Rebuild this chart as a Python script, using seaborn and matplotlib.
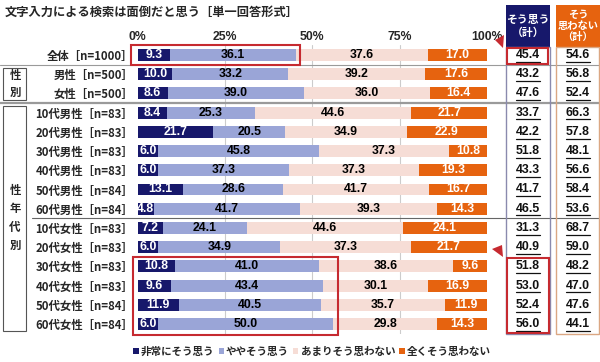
import matplotlib
matplotlib.use("Agg")
import matplotlib.pyplot as plt
import matplotlib.transforms as mtransforms
from matplotlib.patches import Rectangle, Polygon, Patch
import numpy as np
import seaborn as sns

# --- data ---
groups = ["全体", "男性", "女性",
          "10代男性", "20代男性", "30代男性", "40代男性", "50代男性", "60代男性",
          "10代女性", "20代女性", "30代女性", "40代女性", "50代女性", "60代女性"]
sample_n = [1000, 500, 500, 83, 83, 83, 83, 84, 84, 83, 83, 83, 83, 84, 84]
very = [9.3, 10.0, 8.6, 8.4, 21.7, 6.0, 6.0, 13.1, 4.8, 7.2, 6.0, 10.8, 9.6, 11.9, 6.0]
somewhat = [36.1, 33.2, 39.0, 25.3, 20.5, 45.8, 37.3, 28.6, 41.7, 24.1, 34.9, 41.0, 43.4, 40.5, 50.0]
not_much = [37.6, 39.2, 36.0, 44.6, 34.9, 37.3, 37.3, 41.7, 39.3, 44.6, 37.3, 38.6, 30.1, 35.7, 29.8]
not_at_all = [17.0, 17.6, 16.4, 21.7, 22.9, 10.8, 19.3, 16.7, 14.3, 24.1, 21.7, 9.6, 16.9, 11.9, 14.3]
agree_total = [45.4, 43.2, 47.6, 33.7, 42.2, 51.8, 43.3, 41.7, 46.5, 31.3, 40.9, 51.8, 53.0, 52.4, 56.0]
disagree_total = [54.6, 56.8, 52.4, 66.3, 57.8, 48.1, 56.6, 58.4, 53.6, 68.7, 59.0, 48.2, 47.0, 47.6, 44.1]
series_names = ["非常にそう思う", "ややそう思う", "あまりそう思わない", "全くそう思わない"]
x_ticks = [0, 25, 50, 75, 100]

NAVY = "#17186b"
BLUE = "#9aa5d7"
PINK = "#f6ddd6"
ORANGE = "#e6630f"
RED = "#c62a30"
colors = [NAVY, BLUE, PINK, ORANGE]

sns.set_theme(style="white")
plt.rcParams["font.family"] = ["Noto Sans CJK JP", "DejaVu Sans"]
NUM_FONT = ["Liberation Sans", "DejaVu Sans"]

W, H = 600, 362
fig = plt.figure(figsize=(6, 3.62), dpi=100)


def fx(px):
    return px / W


def fy(py):
    return 1 - py / H


ax = fig.add_axes([fx(137.5), fy(333.6), 349.5 / W, (333.6 - 45.4) / H])

labels = [f"{g}［n={n}］" for g, n in zip(groups, sample_n)]
data = np.array([very, somewhat, not_much, not_at_all]).T
cum = data.cumsum(axis=1)

# stacked bars: draw cumulative totals from the outermost layer inward
for k in range(3, -1, -1):
    sns.barplot(x=cum[:, k], y=labels, orient="h", color=colors[k], width=0.62,
                saturation=1, linewidth=0, ax=ax, zorder=2)

for i in range(len(labels)):
    left = 0
    for k in range(4):
        v = data[i, k]
        ax.text(left + v / 2, i, f"{v:.1f}", ha="center", va="center",
                color="white" if k in (0, 3) else "black",
                fontsize=8.8, fontweight="bold", family=NUM_FONT, zorder=3)
        left += v

ax.set_xlim(0, 100)
ax.set_ylim(len(labels) - 0.5, -0.5)
ax.xaxis.tick_top()
ax.set_xticks(x_ticks)
ax.set_xticklabels([f"{t}%" for t in x_ticks], fontsize=8.8, fontweight="bold", family=NUM_FONT)
ax.set_yticks(range(len(labels)))
ax.set_yticklabels(labels, fontsize=8.2, fontweight="bold")
ax.tick_params(axis="both", length=0)
ax.tick_params(axis="x", pad=2)
ax.tick_params(axis="y", pad=3)
ax.set_xlabel("")
ax.set_ylabel("")
for s in ax.spines.values():
    s.set_visible(False)
ax.set_facecolor("none")
for t in (25, 50, 75):
    ax.axvline(t, color="#cccccc", lw=0.8, zorder=0)

# group separators across the whole width
blend = mtransforms.blended_transform_factory(fig.transFigure, ax.transData)
ax.plot([0, 1], [0.5, 0.5], transform=blend, color="#9a9a9a", lw=0.8, clip_on=False, zorder=1)
ax.plot([0, 1], [2.5, 2.5], transform=blend, color="#9a9a9a", lw=1.6, clip_on=False, zorder=1)
ax.plot([fx(32), 1], [8.5, 8.5], transform=blend, color="#666666", lw=0.8, clip_on=False, zorder=1)

# left group boxes
fig.add_artist(Rectangle((fx(3), fy(100)), 23 / W, 32 / H, fill=False, ec="#555555", lw=0.8,
                         transform=fig.transFigure))
fig.add_artist(Rectangle((fx(3), fy(331)), 23 / W, 225 / H, fill=False, ec="#555555", lw=0.8,
                         transform=fig.transFigure))
fig.text(fx(15), fy(84), "性\n別", ha="center", va="center", fontsize=8.2, fontweight="bold",
         linespacing=1.3)
fig.text(fx(15), fy(218), "性\n年\n代\n別", ha="center", va="center", fontsize=8.2,
         fontweight="bold", linespacing=1.55)

# right summary columns
fig.add_artist(Rectangle((fx(506), fy(47)), 44 / W, 42 / H, fc=NAVY, ec="none",
                         transform=fig.transFigure))
fig.add_artist(Rectangle((fx(556), fy(47)), 44 / W, 42 / H, fc=ORANGE, ec="none",
                         transform=fig.transFigure))
fig.text(fx(528), fy(26), "そう思う\n（計）", ha="center", va="center", color="white",
         fontsize=7.8, fontweight="bold", linespacing=1.3)
fig.text(fx(578), fy(26), "そう\n思わない\n（計）", ha="center", va="center", color="white",
         fontsize=7.4, fontweight="bold", linespacing=1.1)
fig.add_artist(Rectangle((fx(506), fy(334)), 44 / W, 287 / H, fill=False, ec="#8a8aae", lw=1,
                         transform=fig.transFigure))
fig.add_artist(Rectangle((fx(556), fy(334)), 43 / W, 287 / H, fill=False, ec="#dba783", lw=1,
                         transform=fig.transFigure))

for i in range(len(labels)):
    for cx, v in ((528, agree_total[i]), (578, disagree_total[i])):
        ax.text(fx(cx), i, f"{v:.1f}", transform=blend, ha="center", va="center",
                fontsize=8.8, fontweight="bold", family=NUM_FONT, color="#111111")
        ax.plot([fx(cx - 12), fx(cx + 12)], [i + 0.35, i + 0.35], transform=blend,
                color="#111111", lw=0.9, clip_on=False)

# red highlights
ax.add_patch(Rectangle((-1.8, -0.53), 48.3, 1.06, fill=False, ec=RED, lw=1.5, clip_on=False, zorder=4))
ax.add_patch(Rectangle((-1.3, 10.5), 58.7, 4.05, fill=False, ec=RED, lw=1.5, clip_on=False, zorder=4))
fig.add_artist(Rectangle((fx(507), fy(64)), 41 / W, 16 / H, fill=False, ec=RED, lw=1.5,
                         transform=fig.transFigure))
fig.add_artist(Rectangle((fx(507), fy(333)), 42 / W, 75 / H, fill=False, ec=RED, lw=1.5,
                         transform=fig.transFigure))
for tri in ([(495, 40), (504, 35), (503, 48)], [(492, 249), (502, 245), (503, 257)]):
    fig.add_artist(Polygon([(fx(a), fy(b)) for a, b in tri], closed=True, fc=RED, ec="none",
                           transform=fig.transFigure))

# title and legend
fig.text(fx(5), fy(12), "文字入力による検索は面倒だと思う［単一回答形式］", ha="left", va="center",
         fontsize=8.8, fontweight="bold")
handles = [Patch(facecolor=c, edgecolor="none") for c in colors]
fig.legend(handles, series_names, loc="center", bbox_to_anchor=(fx(312), fy(352)), ncol=4,
           frameon=False, prop={"weight": "bold", "size": 7.6}, handlelength=0.5,
           handleheight=0.5, handletextpad=0.2, columnspacing=0.4, borderpad=0)

fig.savefig("out.png", dpi=100)
